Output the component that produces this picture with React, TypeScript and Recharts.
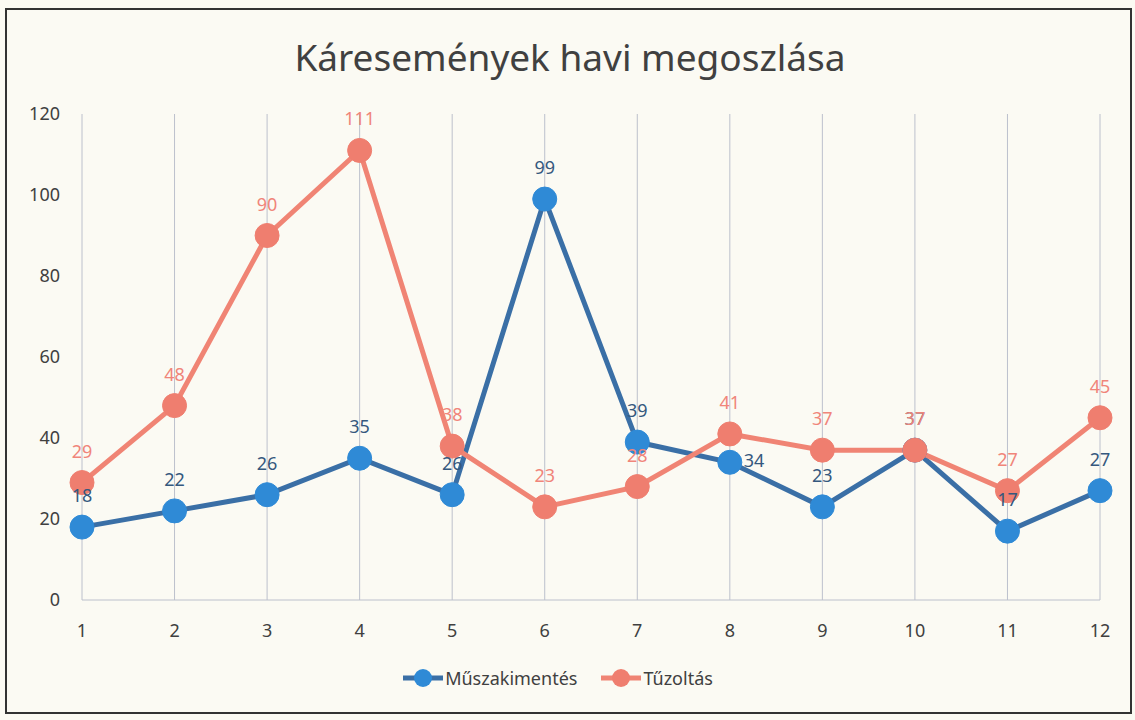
import React from 'react';
import { LineChart, Line, XAxis, YAxis, CartesianGrid, LabelList } from 'recharts';

const months = ['1', '2', '3', '4', '5', '6', '7', '8', '9', '10', '11', '12'];
const muszakimentes = [18, 22, 26, 35, 26, 99, 39, 34, 23, 37, 17, 27];
const tuzoltas = [29, 48, 90, 111, 38, 23, 28, 41, 37, 37, 27, 45];
const yTicks = [0, 20, 40, 60, 80, 100, 120];

const data = months.map((m, i) => ({ month: m, muszaki: muszakimentes[i], tuz: tuzoltas[i] }));

const COLORS = {
  blueLine: '#3A6FA6',
  blueDot: '#2F8AD6',
  blueText: '#35587E',
  redLine: '#F08474',
  redDot: '#EF7E6F',
  redText: '#F0857A',
};

const FONT = '"Noto Sans", "Open Sans", sans-serif';

// labels sit above the point, except a few that Excel pushed to the right
const makeLabel = (color: string, rightOf: number[]) => (props: any) => {
  const { x, y, value, index } = props;
  if (rightOf.includes(index)) {
    return (
      <text x={x + 14} y={y + 5} fill={color} fontSize={18} fontFamily={FONT}>
        {value}
      </text>
    );
  }
  return (
    <text x={x} y={y - 25} fill={color} fontSize={18} fontFamily={FONT} textAnchor="middle">
      {value}
    </text>
  );
};

function LegendItem({ line, dot, label }: { line: string; dot: string; label: string }) {
  return (
    <div style={{ display: 'flex', alignItems: 'center', marginRight: 24 }}>
      <svg width={40} height={22}>
        <line x1={0} y1={11} x2={40} y2={11} stroke={line} strokeWidth={5} />
        <circle cx={20} cy={11} r={9} fill={dot} />
      </svg>
      <span style={{ fontSize: 18, color: '#404040', marginLeft: 2 }}>{label}</span>
    </div>
  );
}

export default function App() {
  return (
    <div
      style={{
        position: 'absolute',
        left: 0,
        top: 0,
        width: 1135,
        height: 720,
        background: '#FBFAF3',
        fontFamily: FONT,
      }}
    >
      <div
        style={{
          position: 'absolute',
          left: 5,
          top: 8,
          width: 1123,
          height: 702,
          border: '2px solid #333',
        }}
      />
      <div
        style={{
          position: 'absolute',
          left: 0,
          top: 31,
          width: 1140,
          textAlign: 'center',
          fontSize: 37,
          color: '#404040',
        }}
      >
        Káresemények havi megoszlása
      </div>
      <div style={{ position: 'absolute', left: 0, top: 0 }}>
        <LineChart width={1135} height={720} data={data} margin={{ top: 114, right: 35, bottom: 90, left: 12 }}>
          <CartesianGrid vertical horizontal={false} stroke="#BCC0CC" />
          <XAxis
            dataKey="month"
            height={30}
            axisLine={{ stroke: '#BCC0CC' }}
            tickLine={false}
            tickSize={0}
            tickMargin={24}
            tick={{ fill: '#404040', fontSize: 18, fontFamily: FONT }}
          />
          <YAxis
            width={70}
            domain={[0, 120]}
            ticks={yTicks}
            axisLine={false}
            tickLine={false}
            tickSize={0}
            tickMargin={22}
            tick={{ fill: '#404040', fontSize: 18, fontFamily: FONT }}
          />
          <Line
            type="linear"
            dataKey="muszaki"
            stroke={COLORS.blueLine}
            strokeWidth={5}
            dot={{ r: 12, fill: COLORS.blueDot, stroke: COLORS.blueDot, strokeWidth: 1 }}
            activeDot={false}
            isAnimationActive={false}
          >
            <LabelList dataKey="muszaki" content={makeLabel(COLORS.blueText, [7])} />
          </Line>
          <Line
            type="linear"
            dataKey="tuz"
            stroke={COLORS.redLine}
            strokeWidth={5}
            dot={{ r: 12, fill: COLORS.redDot, stroke: COLORS.redDot, strokeWidth: 1 }}
            activeDot={false}
            isAnimationActive={false}
          >
            <LabelList dataKey="tuz" content={makeLabel(COLORS.redText, [])} />
          </Line>
        </LineChart>
      </div>
      <div
        style={{
          position: 'absolute',
          left: 0,
          top: 666,
          width: 1140,
          display: 'flex',
          justifyContent: 'center',
        }}
      >
        <LegendItem line={COLORS.blueLine} dot={COLORS.blueDot} label="Műszakimentés" />
        <LegendItem line={COLORS.redLine} dot={COLORS.redDot} label="Tűzoltás" />
      </div>
    </div>
  );
}
